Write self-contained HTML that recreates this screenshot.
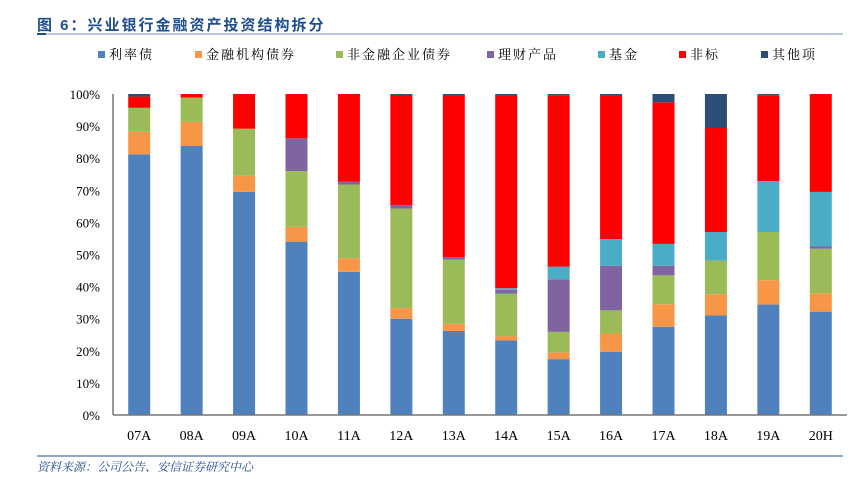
<!DOCTYPE html>
<html><head><meta charset="utf-8">
<style>
body{margin:0;background:#fff;}
svg text{font-family:"Liberation Serif","Noto Serif CJK SC",serif;}
.cjk{font-family:"Liberation Sans","Noto Sans CJK SC",sans-serif;}
.serifcjk{font-family:"Liberation Serif","Noto Serif CJK SC",serif;}
</style></head>
<body>
<svg id="chart" width="855" height="474" viewBox="0 0 855 474" xmlns="http://www.w3.org/2000/svg">
<text x="37" y="30" class="cjk" font-size="15" font-weight="bold" fill="#1f4e8c" letter-spacing="2">图 6：兴业银行金融资产投资结构拆分</text>
<line x1="37" y1="34" x2="843" y2="34" stroke="#6d8fc0" stroke-width="1"/>
<rect x="37" y="33" width="9" height="2" fill="#1f4e8c"/>
<g id="legend"></g>
<g id="yaxis"></g>
<g id="bars"></g>
<g id="xaxis"></g>
<line x1="37" y1="456" x2="843" y2="456" stroke="#1f4e8c" stroke-width="1"/>
<text x="37" y="471" class="serifcjk" font-size="12" font-style="italic" fill="#1f4e8c">资料来源：公司公告、安信证券研究中心</text>
</svg>
<script>
const categories=["07A","08A","09A","10A","11A","12A","13A","14A","15A","16A","17A","18A","19A","20H"];
const seriesNames=["利率债","金融机构债券","非金融企业债券","理财产品","基金","非标","其他项"];
const rateBonds=[81.2,83.8,69.5,54.0,44.6,30.0,26.2,23.2,17.4,19.7,27.5,31.0,34.4,32.2];
const finBonds=[7.0,7.5,5.0,4.6,4.2,3.3,2.2,1.4,2.1,5.7,7.0,6.6,7.6,5.7];
const corpBonds=[7.5,7.6,14.7,17.4,23.0,31.0,20.0,13.2,6.4,7.2,9.0,10.5,15.0,13.9];
const wealthProducts=[0,0,0,10.2,0.9,1.1,0.8,1.2,16.4,13.9,3.0,0,0,0.7];
const funds=[0,0,0,0,0,0,0,0.5,3.9,8.3,6.8,8.9,15.9,17.0];
const nonStandard=[3.5,1.1,10.8,13.8,27.3,34.3,50.2,59.9,53.4,44.6,44.1,32.4,26.7,30.5];
const others=[0.8,0,0,0,0,0.3,0.6,0.6,0.4,0.6,2.6,10.6,0.4,0];
const yTicks=["0%","10%","20%","30%","40%","50%","60%","70%","80%","90%","100%"];
const series=[rateBonds,finBonds,corpBonds,wealthProducts,funds,nonStandard,others];
const colors=["#4f81bd","#f79646","#9bbb59","#8064a2","#4bacc6","#ff0000","#2c4d75"];
const seriesKeys=["rate-bonds","fin-bonds","corp-bonds","wealth-products","funds","non-standard","others"];
const NS="http://www.w3.org/2000/svg";
const plotL=113,plotR=847,plotT=94,plotB=415;
const band=(plotR-plotL)/categories.length,barW=22;
function y(v){return plotB-(v/100)*(plotB-plotT);}
function xc(i){return plotL+band*(i+0.5);}
function mk(tag,attrs,parent){const e=document.createElementNS(NS,tag);for(const k in attrs)e.setAttribute(k,attrs[k]);parent.appendChild(e);return e;}
const yaxis=document.getElementById('yaxis');
yTicks.forEach((t,i)=>{
  const el=mk('text',{x:plotL-13,y:y(i*10)+5,'text-anchor':'end','font-size':'13',fill:'#000'},yaxis);
  el.textContent=t;
  
  
});
const yl=mk('line',{x1:plotL,y1:plotT,x2:plotL,y2:plotB,stroke:'#777','stroke-width':1.5},yaxis);


const bars=document.getElementById('bars');
categories.forEach((c,i)=>{
  let cum=0;
  series.forEach((s,k)=>{
    const v=s[i];
    if(v>0){
      const r=mk('rect',{x:xc(i)-barW/2,y:y(cum+v),width:barW,height:y(cum)-y(cum+v),fill:colors[k]},bars);
      
      
    }
    cum+=v;
  });
});
const xaxis=document.getElementById('xaxis');
const xl=mk('line',{x1:plotL,y1:plotB,x2:plotR,y2:plotB,stroke:'#777','stroke-width':1.5},xaxis);


categories.forEach((c,i)=>{
  const t=mk('text',{x:xc(i),y:440,'text-anchor':'middle','font-size':'14',fill:'#000'},xaxis);
  t.textContent=c;
  
  
});
const legend=document.getElementById('legend');
const legX=[98,195,336,487,598,679,761];
seriesNames.forEach((n,k)=>{
  const g=mk('g',{},legend);
  
  
  mk('rect',{x:legX[k],y:51,width:7,height:7,fill:colors[k]},g);
  const t=mk('text',{x:legX[k]+11,y:59,'font-size':'13',fill:'#000','letter-spacing':'2',class:'serifcjk'},g);
  t.textContent=n;
});
</script>
</body></html>
